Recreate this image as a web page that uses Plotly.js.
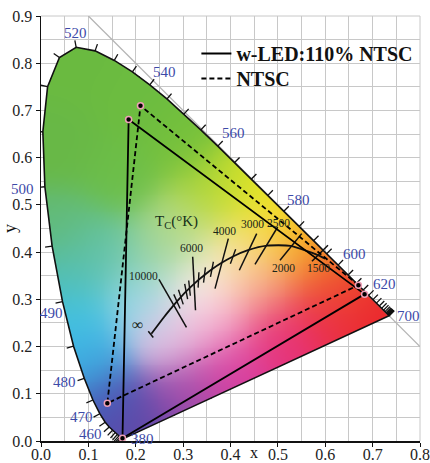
<!DOCTYPE html>
<html><head><meta charset="utf-8">
<script src="https://cdn.plot.ly/plotly-3.0.1.min.js"></script>
<style>html,body{margin:0;padding:0;background:#fff}#chart{width:430px;height:463px}</style>
</head><body><div id="chart"></div>
<script>
// CIE 1931 spectral locus, 5 nm steps
const locusNm = [380,385,390,395,400,405,410,415,420,425,430,435,440,445,450,455,460,465,470,475,480,485,490,495,500,505,510,515,520,525,530,535,540,545,550,555,560,565,570,575,580,585,590,595,600,605,610,615,620,625,630,635,640,645,650,655,660,665,670,675,680,685,690,695,700];
const locusX = [0.1741,0.1740,0.1738,0.1736,0.1733,0.1730,0.1726,0.1721,0.1714,0.1703,0.1689,0.1669,0.1644,0.1611,0.1566,0.1510,0.1440,0.1355,0.1241,0.1096,0.0913,0.0687,0.0454,0.0235,0.0082,0.0039,0.0139,0.0389,0.0743,0.1142,0.1547,0.1929,0.2296,0.2658,0.3016,0.3373,0.3731,0.4087,0.4441,0.4788,0.5125,0.5448,0.5752,0.6029,0.6270,0.6482,0.6658,0.6801,0.6915,0.7006,0.7079,0.7140,0.7190,0.7230,0.7260,0.7283,0.7300,0.7311,0.7320,0.7327,0.7334,0.7340,0.7344,0.7346,0.7347];
const locusY = [0.0050,0.0050,0.0049,0.0049,0.0048,0.0048,0.0048,0.0048,0.0051,0.0058,0.0069,0.0086,0.0109,0.0138,0.0177,0.0227,0.0297,0.0399,0.0578,0.0868,0.1327,0.2007,0.2950,0.4127,0.5384,0.6548,0.7502,0.8120,0.8338,0.8262,0.8059,0.7816,0.7543,0.7243,0.6923,0.6589,0.6245,0.5896,0.5547,0.5202,0.4866,0.4544,0.4242,0.3965,0.3725,0.3514,0.3340,0.3197,0.3083,0.2993,0.2920,0.2859,0.2809,0.2770,0.2740,0.2717,0.2700,0.2689,0.2680,0.2673,0.2666,0.2660,0.2656,0.2654,0.2653];

// wavelength labels
const wlText = ['520','540','560','580','600','620','700','490','480','470','460','380'];
const wlX = [0.0728,0.2611,0.4059,0.5442,0.6611,0.7255,0.7761,0.0232,0.0500,0.0851,0.1051,0.2132];
const wlY = [0.8638,0.7808,0.6527,0.5114,0.3969,0.3323,0.2645,0.2715,0.1250,0.0498,0.0138,0.0040];

// colour anchors of the diagram fill
const ancX = [0.07,0.20,0.04,0.17,0.30,0.36,0.42,0.48,0.54,0.59,0.65,0.71,0.60,0.50,0.40,0.30,0.21,0.15,0.10,0.07,0.05,0.04,0.13,0.21,0.33,0.40,0.27,0.37,0.47,0.30,0.45,0.25];
const ancY = [0.80,0.72,0.62,0.55,0.63,0.53,0.53,0.49,0.43,0.38,0.33,0.28,0.28,0.22,0.15,0.10,0.03,0.07,0.17,0.26,0.35,0.45,0.40,0.30,0.32,0.38,0.22,0.25,0.33,0.45,0.42,0.40];
const ancRGB = [[106,186,64],[108,188,64],[104,184,70],[108,190,72],[116,192,60],[165,210,55],[215,228,40],[246,230,30],[246,182,35],[242,130,40],[238,75,42],[234,35,45],[234,45,75],[230,50,120],[215,60,160],[160,75,170],[100,70,165],[72,85,180],[62,170,225],[65,195,228],[82,190,180],[98,186,118],[100,195,170],[150,215,230],[252,246,242],[250,238,200],[228,195,228],[245,170,205],[245,150,130],[190,220,130],[248,220,110],[150,210,160]];

// gamut triangles
const ledX = [0.683,0.185,0.172,0.683];
const ledY = [0.311,0.681,0.006,0.311];
const ntscX = [0.670,0.210,0.140,0.670];
const ntscY = [0.330,0.710,0.080,0.330];

// x + y = 1 line
const diagX = [0.1,0.8];
const diagY = [0.9,0.2];

// Planckian locus
const plkT = ['inf',20000,15000,12000,10000,9000,8000,7000,6500,6000,5500,5000,4500,4000,3500,3000,2500,2000,1500,1400];
const plkX = [0.233,0.2565,0.2637,0.2719,0.2807,0.2869,0.2952,0.3064,0.3135,0.3221,0.3325,0.3451,0.3608,0.3805,0.4053,0.4369,0.4770,0.5267,0.5857,0.6000];
const plkY = [0.227,0.2583,0.2677,0.2778,0.2884,0.2956,0.3048,0.3166,0.3237,0.3318,0.3411,0.3516,0.3636,0.3768,0.3907,0.4041,0.4137,0.4133,0.3931,0.3860];

// small temperature marks on the locus
const markT = [9000,8000,7000,6500,5500,5000,4500,3500];
const markAngle = [-24,-18,-11,-6,3,7,11,20];

// isotherm lines
const isoT = ['inf',10000,6000,4000,3000,2500,2000,1500];
const isoX1 = [0.2265,0.2490,0.3202,0.3954,0.4553,0.4996,0.5503,0.6058];
const isoY1 = [0.2323,0.3424,0.3901,0.4286,0.4392,0.4532,0.4392,0.4144];
const isoX2 = [0.2370,0.3071,0.3261,0.3673,0.4186,0.4517,0.5045,0.5720];
const isoY2 = [0.2190,0.2408,0.2768,0.3227,0.3615,0.3742,0.3827,0.3806];

// isotherm labels
const isoLabText = ['\u221e','10000','6000','4000','3000','2500','2000','1500'];
const isoLabX = [0.2043,0.2160,0.3170,0.3880,0.4464,0.5010,0.5114,0.5853];
const isoLabY = [0.2460,0.3490,0.4090,0.4440,0.4590,0.4620,0.3668,0.3668];

// ---------- build fill image ----------
const N = locusX.length;
function inside(px, py) {
  let c = false;
  for (let i = 0, j = N - 1; i < N; j = i++) {
    const xi = locusX[i], yi = locusY[i], xj = locusX[j], yj = locusY[j];
    if (((yi > py) !== (yj > py)) && (px < (xj - xi) * (py - yi) / (yj - yi) + xi)) c = !c;
  }
  return c;
}
const D = 0.002, NX = 400, NY = 450, SIG2 = 2 * 0.055 * 0.055;
const img = [];
for (let j = 0; j < NY; j++) {
  const y = D / 2 + j * D;
  const row = [];
  for (let i = 0; i < NX; i++) {
    const x = D / 2 + i * D;
    if (!inside(x, y)) { row.push([255,255,255,0]); continue; }
    let r = 0, g = 0, b = 0, ws = 0;
    for (let k = 0; k < ancX.length; k++) {
      const dx = x - ancX[k], dy = y - ancY[k];
      const w = Math.exp(-(dx*dx + dy*dy) / SIG2) + 1e-12;
      r += w * ancRGB[k][0]; g += w * ancRGB[k][1]; b += w * ancRGB[k][2]; ws += w;
    }
    row.push([Math.round(r/ws), Math.round(g/ws), Math.round(b/ws), 1]);
  }
  img.push(row);
}

// ---------- wavelength tick marks ----------
const tickLen = 0.015;
const tkX = [], tkY = [];
for (let i = 0; i < N; i++) {
  const a = Math.max(i - 1, 0), c = Math.min(i + 1, N - 1);
  let tx = locusX[c] - locusX[a], ty = locusY[c] - locusY[a];
  const L = Math.hypot(tx, ty) || 1; tx /= L; ty /= L;
  tkX.push(locusX[i], locusX[i] - ty * tickLen, null);
  tkY.push(locusY[i], locusY[i] + tx * tickLen, null);
}

// isotherm segments
const isX = [], isY = [];
for (let i = 0; i < isoT.length; i++) {
  isX.push(isoX1[i], isoX2[i], null);
  isY.push(isoY1[i], isoY2[i], null);
}
// small marks positions
const mkX = markT.map(t => plkX[plkT.indexOf(t)]);
const mkY = markT.map(t => plkY[plkT.indexOf(t)]);

const serif = 'Liberation Serif, Times New Roman, serif';
const traces = [
  {type:'image', z: img, colormodel:'rgba', x0: D/2, dx: D, y0: D/2, dy: D, hoverinfo:'skip', showlegend:false},
  {x: diagX, y: diagY, mode:'lines', line:{color:'#b4b4b4', width:1.3}, showlegend:false, hoverinfo:'skip'},
  {x: locusX.concat([locusX[0]]), y: locusY.concat([locusY[0]]), mode:'lines', line:{color:'#111', width:1.6}, showlegend:false, hoverinfo:'skip'},
  {x: tkX, y: tkY, mode:'lines', line:{color:'#111', width:1.3}, showlegend:false, hoverinfo:'skip', connectgaps:false},
  {x: plkX, y: plkY, mode:'lines', line:{color:'#111', width:1.8, shape:'spline', smoothing:0.6}, showlegend:false, hoverinfo:'skip'},
  {x: isX, y: isY, mode:'lines', line:{color:'#111', width:1.5}, showlegend:false, hoverinfo:'skip'},
  {x: mkX, y: mkY, mode:'markers', marker:{symbol:'line-ns-open', size:11, color:'#111', angle: markAngle, line:{width:1.4}}, showlegend:false, hoverinfo:'skip'},
  {x: ledX, y: ledY, mode:'lines', name:'w-LED:110% NTSC', legend:'legend', line:{color:'#000', width:1.8}},
  {x: ntscX, y: ntscY, mode:'lines', name:'NTSC', legend:'legend2', line:{color:'#000', width:1.8, dash:'5px,3px'}},
  {x: ledX.slice(0,3).concat(ntscX.slice(0,3)), y: ledY.slice(0,3).concat(ntscY.slice(0,3)), mode:'markers', marker:{size:6, color:'#000', line:{color:'#f0a0b8', width:1.5}}, showlegend:false, hoverinfo:'skip'}
];

const annotations = [];
wlText.forEach((t, i) => annotations.push({x: wlX[i], y: wlY[i], xref:'x', yref:'y', text: t, showarrow:false, font:{family: serif, size:15, color:'#3c4aa8'}}));
annotations.push({x: -0.0132, y: 0.5345, xref:'paper', yref:'y', xanchor:'right', text:'500', showarrow:false, font:{family: serif, size:15, color:'#3c4aa8'}});
isoLabText.forEach((t, i) => annotations.push({x: isoLabX[i], y: isoLabY[i], xref:'x', yref:'y', text: t, showarrow:false, font:{family: serif, size: i === 0 ? 16 : 11.5, color:'#1a261a'}}));
annotations.push({x: 0.287, y: 0.463, xref:'x', yref:'y', text:'T<sub>C</sub>(\u00b0K)', showarrow:false, font:{family: serif, size:15, color:'#16301a'}});
annotations.push({x: 0.45, y: -0.028, xref:'x', yref:'paper', yanchor:'middle', text:'x', showarrow:false, font:{family: serif, size:16, color:'#111'}});

const axisCommon = {
  showline:true, linecolor:'#111', linewidth:1.5, ticks:'outside', ticklen:4, tickcolor:'#111',
  showgrid:true, gridcolor:'#c8c8c8', gridwidth:1, zeroline:false, dtick:0.1, tickformat:'.1f',
  minor:{dtick:0.05, showgrid:true, gridcolor:'#c8c8c8', gridwidth:1, ticks:''},
  tickfont:{family: serif, size:16, color:'#222'}, fixedrange:true
};
const legendCommon = {x:0.41, xanchor:'left', yanchor:'top', bgcolor:'rgba(0,0,0,0)', borderwidth:0,
    font:{family: serif, size:20, color:'#111', weight:'bold'}};
const layout = {
  width:430, height:463, margin:{l:41, r:10, t:16, b:22},
  paper_bgcolor:'#fff', plot_bgcolor:'#fff',
  xaxis: Object.assign({}, axisCommon, {range:[0,0.8], ticklabelstandoff:-6}),
  yaxis: Object.assign({}, axisCommon, {range:[0,0.9], scaleanchor:false, title:{text:'y', font:{family: serif, size:18, color:'#111'}, standoff:2}}),
  showlegend:true,
  legend: Object.assign({}, legendCommon, {y:0.9576}),
  legend2: Object.assign({}, legendCommon, {y:0.8988}),
  shapes:[
    {type:'line', xref:'paper', yref:'paper', x0:1, x1:1, y0:0, y1:1, line:{color:'#c8c8c8', width:1}, layer:'below'},
    {type:'line', xref:'paper', yref:'paper', x0:0, x1:1, y0:1, y1:1, line:{color:'#c8c8c8', width:1}, layer:'below'}
  ],
  annotations: annotations
};
Plotly.newPlot('chart', traces, layout, {staticPlot:true, displayModeBar:false});
</script>
</body></html>
